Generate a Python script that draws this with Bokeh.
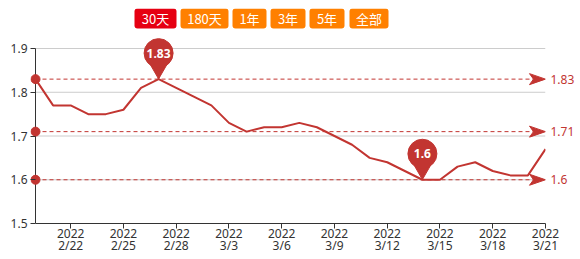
from bokeh.plotting import figure
from bokeh.models import (Range1d, FixedTicker, Label, BoxAnnotation, ColumnDataSource,
                          LinearAxis)
from bokeh.embed import file_html
from bokeh.resources import INLINE
from bokeh.core.properties import value

# ---------------- data ----------------
year = "2022"
dates = ["2/20", "2/21", "2/22", "2/23", "2/24", "2/25", "2/26", "2/27", "2/28",
         "3/1", "3/2", "3/3", "3/4", "3/5", "3/6", "3/7", "3/8", "3/9", "3/10",
         "3/11", "3/12", "3/13", "3/14", "3/15", "3/16", "3/17", "3/18", "3/19",
         "3/20", "3/21"]
values = [1.83, 1.77, 1.77, 1.75, 1.75, 1.76, 1.81, 1.83, 1.81, 1.79,
          1.77, 1.73, 1.71, 1.72, 1.72, 1.73, 1.72, 1.70, 1.68, 1.65,
          1.64, 1.62, 1.60, 1.60, 1.63, 1.64, 1.62, 1.61, 1.61, 1.67]
tick_dates = ["2/22", "2/25", "2/28", "3/3", "3/6", "3/9", "3/12", "3/15", "3/18", "3/21"]
y_ticks = [1.5, 1.6, 1.7, 1.8, 1.9]
pin_dates = ["2/27", "3/14"]          # max / min markers
buttons = ["30天", "180天", "1年", "3年", "5年", "全部"]
active_button = "30天"

# ---------------- style / layout ----------------
RED = "#c23531"
AX = "#333333"
FONT = "Noto Sans"
W, H = 580, 259
PAD_L = 5                         # frame starts 5px left of the value axis line
BL, BR, BT, BB = 35 - PAD_L, 35, 8, 36
x_idx = list(range(len(dates)))
x_last = len(dates) - 1
sx = (W - 35 - BR) / x_last                 # px per index
sy = 175 / (y_ticks[-1] - y_ticks[0])       # px per value unit
y_end = y_ticks[-1] + (48 - BT) / sy

p = figure(width=W, height=H, output_backend="svg", toolbar_location=None,
           x_range=Range1d(-PAD_L / sx, x_last), y_range=Range1d(y_ticks[0], y_end),
           min_border_left=BL, min_border_right=BR, min_border_top=BT, min_border_bottom=BB)
p.outline_line_color = None
p.background_fill_color = "white"
p.border_fill_color = "white"

# y axis: ticks + labels from the axis, axis line drawn at x=0
p.yaxis.ticker = FixedTicker(ticks=y_ticks)
p.yaxis.axis_line_color = None
p.yaxis.major_tick_line_color = AX
p.yaxis.major_tick_out = 0
p.yaxis.major_tick_in = PAD_L
p.yaxis.minor_tick_line_color = None
p.yaxis.major_label_standoff = 3
p.yaxis.major_label_text_font = FONT
p.yaxis.major_label_text_font_size = "12px"
p.yaxis.major_label_text_color = AX

# x axis: year line + date line (second axis stacked below)
tick_idx = [dates.index(d) for d in tick_dates]
xa = p.xaxis[0]
xa.ticker = FixedTicker(ticks=tick_idx)
xa.bounds = (0, x_last)
xa.major_label_overrides = {i: year for i in tick_idx}
xa.axis_line_color = AX
xa.major_tick_line_color = AX
xa.major_tick_out = 5
xa.major_tick_in = 0
xa.minor_tick_line_color = None
xa.major_label_standoff = 0
xa.major_label_text_font = FONT
xa.major_label_text_font_size = "12px"
xa.major_label_text_color = AX

xa2 = LinearAxis(ticker=FixedTicker(ticks=tick_idx),
                 major_label_overrides={i: dates[i] for i in tick_idx},
                 axis_line_color=None, major_tick_line_color=None, minor_tick_line_color=None,
                 major_tick_out=0, major_tick_in=0, major_label_standoff=-4,
                 major_label_text_font=FONT, major_label_text_font_size="12px",
                 major_label_text_color=AX)
p.add_layout(xa2, "below")

# grid lines between x=0 and the last date
p.xgrid.grid_line_color = None
p.ygrid.grid_line_color = None
grid_vals = y_ticks[1:]
p.segment(x0=[0] * len(grid_vals), y0=grid_vals, x1=[x_last] * len(grid_vals), y1=grid_vals,
          line_color="#cccccc", line_width=1)
# value axis line
p.segment(x0=[0], y0=[y_ticks[0]], x1=[0], y1=[y_ticks[-1]], line_color=AX, line_width=1)

# main line
src = ColumnDataSource(dict(x=x_idx, y=values))
p.line("x", "y", source=src, line_color=RED, line_width=2)

# mark lines: max, average, min
v_max = max(values)
v_min = min(values)
v_avg = round(sum(values) / len(values), 2)
marks = [v_max, v_avg, v_min]
notch = x_last - 12 / sx
for v in marks:
    p.segment(x0=[0], y0=[v], x1=[notch], y1=[v], line_color=RED, line_width=1, line_dash="4 3")
    p.patch(x=[x_last, x_last - 16 / sx, notch, x_last - 16 / sx],
            y=[v, v + 5.5 / sy, v, v - 5.5 / sy], fill_color=RED, line_color=RED)
p.scatter(x=[0] * len(marks), y=marks, size=9, fill_color=RED, line_color=RED)

# mark line value labels as a right-hand axis
ra = LinearAxis(ticker=FixedTicker(ticks=marks),
                major_label_overrides={v: f"{v:g}" for v in marks},
                axis_line_color=None, major_tick_line_color=None, minor_tick_line_color=None,
                major_tick_out=0, major_tick_in=0, major_label_standoff=5,
                major_label_text_font=FONT, major_label_text_font_size="12px",
                major_label_text_color=RED)
p.add_layout(ra, "right")

# pins
pin_x = [dates.index(d) for d in pin_dates]
pin_v = [values[i] for i in pin_x]
pin_cy = [v + 26 / sy for v in pin_v]
p.scatter(x=pin_x, y=[v + 10 / sy for v in pin_v], marker="inverted_triangle", size=17,
          fill_color=RED, line_color=RED)
p.scatter(x=pin_x, y=pin_cy, size=29, fill_color=RED, line_color=RED)
p.text(x=pin_x, y=pin_cy, text=[f"{v:g}" for v in pin_v], text_color="white",
       text_font=value(FONT), text_font_size="12px", text_font_style="bold",
       text_align="center", text_baseline="middle")

# buttons (screen units, relative to frame)
btn_edges = [(134, 176), (180, 228), (232, 266), (270, 305), (309, 344), (349, 388)]
btn_top, btn_bot = 8, 28
frame_bottom = H - BB
for name, (l, r) in zip(buttons, btn_edges):
    col = "#e60012" if name == active_button else "#ff8000"
    p.add_layout(BoxAnnotation(left=l - BL, right=r - BL, top=frame_bottom - btn_top,
                               bottom=frame_bottom - btn_bot, left_units="screen",
                               right_units="screen", top_units="screen", bottom_units="screen",
                               fill_color=col, fill_alpha=1, line_color=None, border_radius=3))
    p.add_layout(Label(x=(l + r) / 2 - BL, y=frame_bottom - (btn_top + btn_bot) / 2,
                       x_units="screen", y_units="screen", text=name, text_align="center",
                       text_baseline="middle", text_color="white",
                       text_font="Noto Sans CJK SC", text_font_size="13px"))

open("out.html", "w").write(file_html(p, INLINE))
